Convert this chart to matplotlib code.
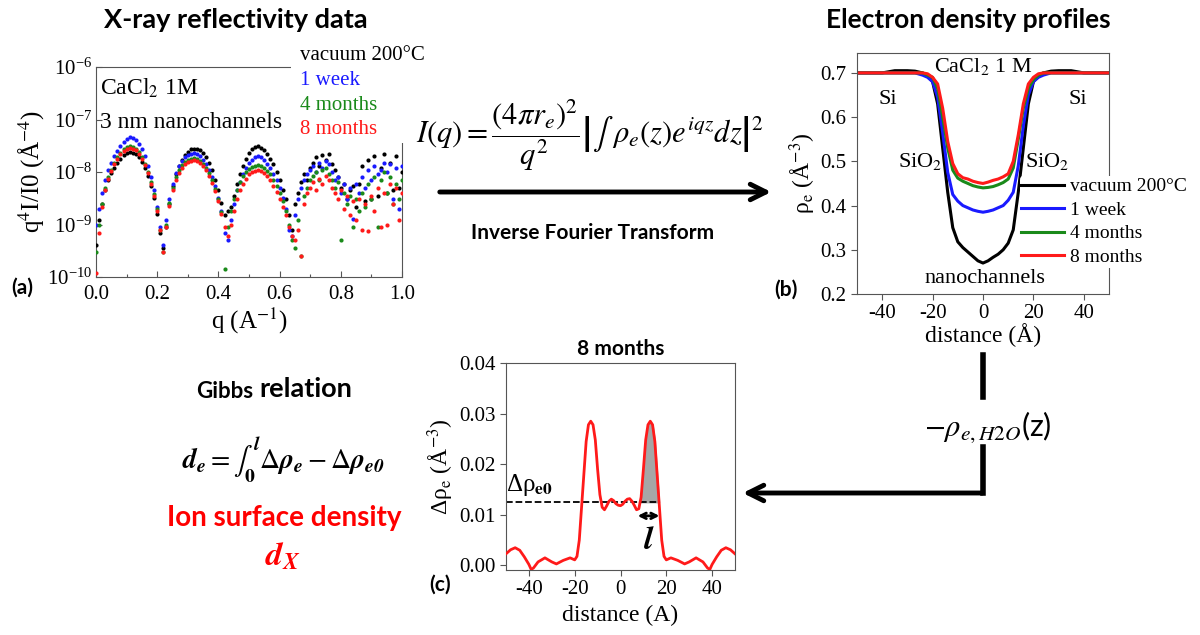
import numpy as np
import matplotlib
matplotlib.use('Agg')
import matplotlib.pyplot as plt
from matplotlib.patches import Rectangle, FancyArrowPatch
from matplotlib.lines import Line2D
from matplotlib.ticker import MultipleLocator, LogLocator, NullLocator, FormatStrFormatter

plt.rcParams['font.family'] = 'Liberation Serif'
plt.rcParams['mathtext.fontset'] = 'stix'
plt.rcParams['axes.linewidth'] = 0.8
plt.rcParams['axes.edgecolor'] = '#555555'
plt.rcParams['axes.unicode_minus'] = False

SANS = 'Lato'

# ---------------- data: (a) X-ray reflectivity, q^4 I/I0 in units of 1e-9 ----------------
q_a = [0.00, 0.01, 0.02, 0.03, 0.04, 0.05, 0.06, 0.07, 0.08, 0.09,
       0.10, 0.11, 0.12, 0.13, 0.14, 0.15, 0.16, 0.17, 0.18, 0.19,
       0.20, 0.21, 0.22, 0.23, 0.24, 0.25, 0.26, 0.27, 0.28, 0.29,
       0.30, 0.31, 0.32, 0.33, 0.34, 0.35, 0.36, 0.37, 0.38, 0.39,
       0.40, 0.41, 0.42, 0.43, 0.44, 0.45, 0.46, 0.47, 0.48, 0.49,
       0.50, 0.51, 0.52, 0.53, 0.54, 0.55, 0.56, 0.57, 0.58, 0.59,
       0.60, 0.61, 0.62, 0.63, 0.64, 0.65, 0.66, 0.67, 0.68, 0.69,
       0.70, 0.71, 0.72, 0.73, 0.74, 0.75, 0.76, 0.77, 0.78, 0.79,
       0.80, 0.81, 0.82, 0.83, 0.84, 0.85, 0.86, 0.87, 0.88, 0.89,
       0.90, 0.91, 0.92, 0.93, 0.94, 0.95, 0.96, 0.97, 0.98, 0.99, 1.00]

xrr_vacuum = [0.4, 1.2, 2.5, 4.5, 7, 9.5, 12, 15, 18, 21,
              23, 24, 23.5, 22, 19, 15.5, 12, 8.5, 5.5, 3.2,
              1.6, 0.7, 0.35, 0.9, 2.5, 5.5, 9, 13, 17, 21,
              24, 27, 28, 28, 26, 23, 19, 15, 11, 7,
              4.5, 2.6, 1.5, 1.8, 2.2, 3.5, 6, 9, 13, 18,
              23, 27, 30, 31, 29, 26, 22, 18, 14, 10,
              7, 4.5, 3, 1.5, 0.8, 2.5, 4, 6.5, 9, 7,
              12, 15, 19, 13, 21, 17, 22, 14, 11, 8,
              5, 6, 3, 4.5, 5.5, 2.2, 6, 13, 2.8, 17,
              3, 20, 3.5, 12, 22, 4, 15, 4.5, 20, 5, 10]

xrr_1week = [1.0, 2.0, 4, 7, 11, 15, 20, 25, 31, 37,
             43, 46, 44, 40, 34, 27, 20, 13, 8, 4.5,
             2.2, 0.9, 0.4, 1.2, 3, 6, 9.5, 13, 16, 19,
             21, 22, 23, 22, 20, 17, 14, 11, 8, 5.5,
             3.2, 1.8, 0.7, 0.5, 1.2, 2.5, 4.5, 6.5, 9, 12,
             15, 17, 19, 20, 19, 17, 14, 12, 9, 7,
             5, 3.2, 2, 0.8, 0.6, 1.5, 3, 5, 7, 9,
             11, 13, 10, 15, 12, 16, 14, 10, 7, 8,
             4, 6, 3, 5, 1.3, 6, 4, 8, 5, 11,
             7, 13, 9, 11, 15, 10, 14, 3, 12, 2, 13]

xrr_4months = [0.3, 1.0, 2.5, 5, 8, 11, 15, 19, 23, 27,
               30, 31, 30, 28, 24, 19, 14.5, 10, 6.5, 3.8,
               2, 0.8, 0.3, 1.0, 2.6, 5, 8, 11, 13.5, 15.5,
               17, 18, 18.5, 18, 16.5, 14.5, 12, 9.5, 7, 4.8,
               3, 1.7, 0.14, 0.9, 1.8, 3, 4.5, 6.5, 8.5, 10,
               11.5, 12.5, 13, 13.5, 13, 12, 10.5, 9, 7, 5.5,
               4, 2.8, 1.8, 1.0, 0.5, 0.35, 1.2, 0.25, 3.5, 5,
               7, 8.5, 10, 7, 11, 12, 9, 7, 5, 6.5,
               0.5, 4, 2.5, 3.5, 0.9, 3, 1.8, 4, 2.2, 6,
               3, 8, 0.9, 7, 10, 4, 8, 2.5, 6, 3, 7]

xrr_8months = [0.12, 0.7, 2.2, 4.5, 7.5, 10.5, 14, 18, 22, 25,
               27.5, 28.5, 28, 26, 22.5, 18, 13.5, 9.5, 6, 3.5,
               1.8, 0.8, 0.3, 0.9, 2.3, 4.5, 7, 9.5, 12, 14,
               15.5, 16.5, 17, 16.5, 15, 13, 11, 8.5, 6.2, 4.3,
               2.8, 1.6, 0.9, 0.6, 1.0, 1.8, 3, 4.5, 6, 7.5,
               9, 10, 10.5, 11, 10.5, 9.5, 8.5, 7, 5.5, 4.2,
               3, 2.2, 1.5, 0.9, 0.6, 0.5, 0.8, 0.25, 2.5, 4,
               5, 6.5, 4.5, 7.5, 6, 8.5, 7, 5, 4, 3,
               4.5, 2, 3.5, 1.5, 2.8, 1.2, 3, 0.8, 2.5, 0.75,
               3.5, 1.8, 5, 0.9, 4, 1.0, 6, 2.5, 5, 1.2, 4]

series_labels = ['vacuum 200°C', '1 week', '4 months', '8 months']
series_colors = ['#000000', '#1a1aff', '#1a8a1a', '#ff1a1a']

# ---------------- data: (b) electron density profiles ----------------
z_b = [-50, -45, -40, -35, -30, -27, -24, -22, -20, -18, -16, -14, -12, -10, -8, -6, -4, -2,
       0, 2, 4, 6, 8, 10, 12, 14, 16, 18, 20, 22, 24, 27, 30, 35, 40, 45, 50]
rho_vacuum = [0.70, 0.70, 0.70, 0.705, 0.705, 0.704, 0.70, 0.695, 0.68, 0.63, 0.53, 0.43, 0.35,
              0.318, 0.305, 0.295, 0.285, 0.275, 0.27, 0.275, 0.283, 0.29, 0.30, 0.315, 0.345,
              0.43, 0.53, 0.63, 0.68, 0.695, 0.70, 0.704, 0.705, 0.705, 0.70, 0.70, 0.70]
rho_1week = [0.70, 0.70, 0.70, 0.70, 0.70, 0.70, 0.695, 0.69, 0.68, 0.645, 0.565, 0.475, 0.425,
             0.41, 0.40, 0.395, 0.39, 0.387, 0.385, 0.387, 0.39, 0.395, 0.40, 0.412, 0.43,
             0.49, 0.58, 0.65, 0.68, 0.69, 0.695, 0.70, 0.70, 0.70, 0.70, 0.70, 0.70]
rho_4months = [0.70, 0.70, 0.70, 0.70, 0.70, 0.70, 0.70, 0.695, 0.69, 0.665, 0.60, 0.53, 0.48,
               0.462, 0.455, 0.45, 0.445, 0.442, 0.44, 0.441, 0.443, 0.447, 0.452, 0.46, 0.485,
               0.55, 0.62, 0.665, 0.685, 0.695, 0.70, 0.70, 0.70, 0.70, 0.70, 0.70, 0.70]
rho_8months = [0.70, 0.70, 0.70, 0.70, 0.70, 0.70, 0.70, 0.698, 0.69, 0.675, 0.62, 0.545, 0.495,
               0.472, 0.463, 0.46, 0.455, 0.452, 0.45, 0.453, 0.457, 0.46, 0.465, 0.472, 0.50,
               0.56, 0.63, 0.675, 0.69, 0.698, 0.70, 0.70, 0.70, 0.70, 0.70, 0.70, 0.70]

# ---------------- data: (c) 8 months minus water ----------------
z_c = [-50, -48, -46, -44, -42, -40, -39, -38, -36, -33, -30, -28, -25, -22, -20, -19, -18, -17,
       -16, -15, -14, -13, -12, -11, -10, -9, -8, -7, -6, -5, -4, -3, -2, -1, 0, 1, 2, 3, 4, 5,
       6, 7, 8, 9, 10, 11, 12, 13, 14, 15, 16, 17, 18, 19, 20, 22, 25, 28, 30, 33, 36, 38, 39,
       40, 42, 44, 46, 48, 50]
drho_c = [0.0023, 0.0031, 0.0035, 0.0030, 0.0017, 0.0002, -0.0008, -0.0005, 0.0007, 0.0015,
          0.0007, 0.0003, 0.0010, 0.0015, 0.0011, 0.0018, 0.0050, 0.0115, 0.0180, 0.0245,
          0.0278, 0.0285, 0.0278, 0.0248, 0.0190, 0.0140, 0.0115, 0.0110, 0.0118, 0.0127,
          0.0131, 0.0128, 0.0122, 0.0119, 0.0118, 0.0121, 0.0127, 0.0131, 0.0132, 0.0127,
          0.0119, 0.0110, 0.0112, 0.0135, 0.0190, 0.0248, 0.0278, 0.0285, 0.0278, 0.0245,
          0.0180, 0.0115, 0.0050, 0.0018, 0.0011, 0.0015, 0.0010, 0.0003, 0.0007, 0.0015,
          0.0007, -0.0005, -0.0008, 0.0002, 0.0017, 0.0030, 0.0035, 0.0031, 0.0023]
drho_e0 = 0.0125
l_start, l_end = 7.5, 17

W, H = 1200, 635
fig = plt.figure(figsize=(W / 100, H / 100), dpi=100)


def fpos(x, y):
    return x / W, 1 - y / H


def axes_px(left, top, right, bottom):
    return fig.add_axes([left / W, 1 - bottom / H, (right - left) / W, (bottom - top) / H])


def style_ticks(ax, direction, size):
    ax.tick_params(direction=direction, labelsize=size, length=4, width=0.8, color='#555555')
    ax.tick_params(which='minor', direction=direction, length=2.5, width=0.8, color='#555555')


# ---------------- panel (a) ----------------
ax_a = axes_px(96, 67, 402, 277)
for vals, c in zip([xrr_vacuum, xrr_1week, xrr_4months, xrr_8months], series_colors):
    ax_a.scatter(q_a, np.array(vals) * 1e-9, s=9, color=c, linewidths=0, zorder=3)
ax_a.set_yscale('log')
ax_a.set_ylim(1e-10, 1e-6)
ax_a.set_xlim(0, 1)
ax_a.xaxis.set_major_locator(MultipleLocator(0.2))
ax_a.xaxis.set_major_formatter(FormatStrFormatter('%.1f'))
ax_a.xaxis.set_minor_locator(MultipleLocator(0.1))
ax_a.yaxis.set_major_locator(LogLocator(base=10, numticks=10))
ax_a.yaxis.set_minor_locator(NullLocator())
style_ticks(ax_a, 'in', 15)
ax_a.tick_params(axis='x', pad=6)
ax_a.tick_params(axis='y', pad=3)
ax_a.set_xlabel('q (A$^{-1}$)', fontsize=18, labelpad=1)
ax_a.set_ylabel('q$^4$I/I0 (Å$^{-4}$)', fontsize=18, labelpad=0)
ax_a.text(0.013, 0.9, 'CaCl$_2$ 1M', transform=ax_a.transAxes, fontsize=17, va='center')
ax_a.text(0.013, 0.738, '3 nm nanochannels', transform=ax_a.transAxes, fontsize=17, va='center')

# white box behind the text legend (hides the top-right corner of the frame)
fig.add_artist(Rectangle(fpos(291, 143), 116 / W, 103 / H, transform=fig.transFigure,
                         facecolor='white', edgecolor='none', zorder=5))
for i, (lab, c) in enumerate(zip(series_labels, series_colors)):
    fig.text(*fpos(300, 56 + 24.5 * i), lab, color=c, fontsize=15, va='center', ha='left', zorder=6)

# ---------------- panel (b) ----------------
ax_b = axes_px(857, 53, 1109, 294)
for vals, c, lab in zip([rho_vacuum, rho_1week, rho_4months, rho_8months], series_colors, series_labels):
    ax_b.plot(z_b, vals, color=c, lw=2.2, label=lab)
ax_b.set_xlim(-50, 50)
ax_b.set_ylim(0.2, 0.745)
ax_b.xaxis.set_major_locator(MultipleLocator(20))
ax_b.yaxis.set_major_locator(MultipleLocator(0.1))
ax_b.yaxis.set_major_formatter(FormatStrFormatter('%.1f'))
style_ticks(ax_b, 'out', 15)
ax_b.set_xlabel('distance (Å)', fontsize=17, labelpad=0)
ax_b.set_ylabel('ρ$_{\\rm e}$ (Å$^{-3}$)', fontsize=17, labelpad=2)
ax_b.text(0, 0.714, 'CaCl$_2$ 1 M', fontsize=16, ha='center', va='center')
ax_b.text(-37.7, 0.639, 'Si', fontsize=16, ha='center', va='center')
ax_b.text(37.7, 0.639, 'Si', fontsize=16, ha='center', va='center')
ax_b.text(-25, 0.50, 'SiO$_2$', fontsize=16, ha='center', va='center')
ax_b.text(25.4, 0.50, 'SiO$_2$', fontsize=16, ha='center', va='center')
ax_b.text(0.8, 0.234, 'nanochannels', fontsize=16, ha='center', va='center', zorder=7)
leg = ax_b.legend(loc='upper left', bbox_to_anchor=(0.645, 0.49), fontsize=14, frameon=True,
                  facecolor='white', edgecolor='none', framealpha=1, borderaxespad=0,
                  borderpad=0.1, handlelength=2.2, handletextpad=0.3, labelspacing=0.3)

# ---------------- panel (c) ----------------
ax_c = axes_px(506, 363, 735, 570)
zc = np.array(z_c)
dc = np.array(drho_c)
ax_c.plot(zc, dc, color='#ff1a1a', lw=2, zorder=3)
ax_c.fill_between(zc, dc, drho_e0, where=(zc >= l_start) & (zc <= l_end) & (dc >= drho_e0),
                  interpolate=True, color='#a6a6a6', zorder=2)
ax_c.plot([-50, l_end], [drho_e0, drho_e0], 'k--', lw=1.3, zorder=2)
ax_c.annotate('', xy=(l_start, 0.0098), xytext=(l_end, 0.0098),
              arrowprops=dict(arrowstyle='<->', lw=2, color='black', shrinkA=0, shrinkB=0,
                              mutation_scale=10))
ax_c.text(12.2, 0.0048, r'$\mathbfit{l}$', fontsize=24, ha='center', va='center')
ax_c.text(-50, 0.0158, 'Δρ$_{\\mathbf{e0}}$', fontsize=18, ha='left', va='center')
ax_c.set_xlim(-50, 50)
ax_c.set_ylim(-0.0009, 0.04)
ax_c.xaxis.set_major_locator(MultipleLocator(20))
ax_c.yaxis.set_major_locator(MultipleLocator(0.01))
ax_c.yaxis.set_major_formatter(FormatStrFormatter('%.2f'))
style_ticks(ax_c, 'out', 15)
ax_c.set_xlabel('distance (A)', fontsize=17, labelpad=4)
ax_c.set_ylabel('Δρ$_{\\rm e}$ (Å$^{-3}$)', fontsize=17, labelpad=2)
ax_c.set_title('8 months', fontsize=15, fontfamily=SANS, fontweight='bold', pad=6)

# ---------------- titles, formulas, arrows ----------------
fig.text(*fpos(236, 20), 'X-ray reflectivity data', fontsize=19.5, fontfamily=SANS,
         fontweight='bold', ha='center', va='center')
fig.text(*fpos(968, 20), 'Electron density profiles', fontsize=19, fontfamily=SANS,
         fontweight='bold', ha='center', va='center')

fig.text(*fpos(590, 135),
         r'$I(q) = \dfrac{(4\pi r_e)^2}{q^2}\left|\int\ \rho_e(z)e^{iqz}dz\right|^2$',
         fontsize=22, ha='center', va='center')
fig.add_artist(FancyArrowPatch(fpos(437, 192), fpos(774, 192), transform=fig.transFigure,
                               arrowstyle='->', mutation_scale=28, lw=3.5, color='black'))
fig.text(*fpos(593, 233), 'Inverse Fourier Transform', fontsize=15, fontfamily=SANS,
         fontweight='bold', ha='center', va='center')

fig.add_artist(Line2D([983 / W, 983 / W], [1 - 355 / H, 1 - 397 / H], transform=fig.transFigure,
                      lw=4, color='black'))
fig.text(*fpos(988, 427), r'$-\rho_{e,H2O}$(z)', fontsize=22, fontfamily=SANS,
         ha='center', va='center')
fig.add_artist(Line2D([983 / W, 983 / W], [1 - 447 / H, 1 - 493 / H], transform=fig.transFigure,
                      lw=4, color='black'))
fig.add_artist(FancyArrowPatch(fpos(985, 493), fpos(740, 493), transform=fig.transFigure,
                               arrowstyle='->', mutation_scale=28, lw=3.5, color='black'))

fig.text(*fpos(253, 391), 'Gibbs', fontsize=16, fontfamily=SANS, fontweight='bold',
         ha='right', va='center')
fig.text(*fpos(259, 389), 'relation', fontsize=19.5, fontfamily=SANS, fontweight='bold',
         ha='left', va='center')
fig.text(*fpos(283, 460),
         r'$\mathbfit{d_e} = \int_{\mathbf{0}}^{\mathbfit{l}}\Delta\mathbfit{\rho_e} - \Delta\mathbfit{\rho_{e0}}$',
         fontsize=20, ha='center', va='center')
fig.text(*fpos(284, 518), 'Ion surface density', fontsize=20, fontfamily=SANS, fontweight='bold',
         color='#ff0000', ha='center', va='center')
fig.text(*fpos(283, 557), r'$\mathbfit{d_X}$', fontsize=24, color='#ff0000', ha='center', va='center')

fig.text(*fpos(22, 288), '(a)', fontsize=15, fontfamily=SANS, fontweight='bold', ha='center', va='center')
fig.text(*fpos(786, 290), '(b)', fontsize=15, fontfamily=SANS, fontweight='bold', ha='center', va='center')
fig.text(*fpos(440, 585), '(c)', fontsize=15, fontfamily=SANS, fontweight='bold', ha='center', va='center')

fig.savefig('out.png', dpi=100)
